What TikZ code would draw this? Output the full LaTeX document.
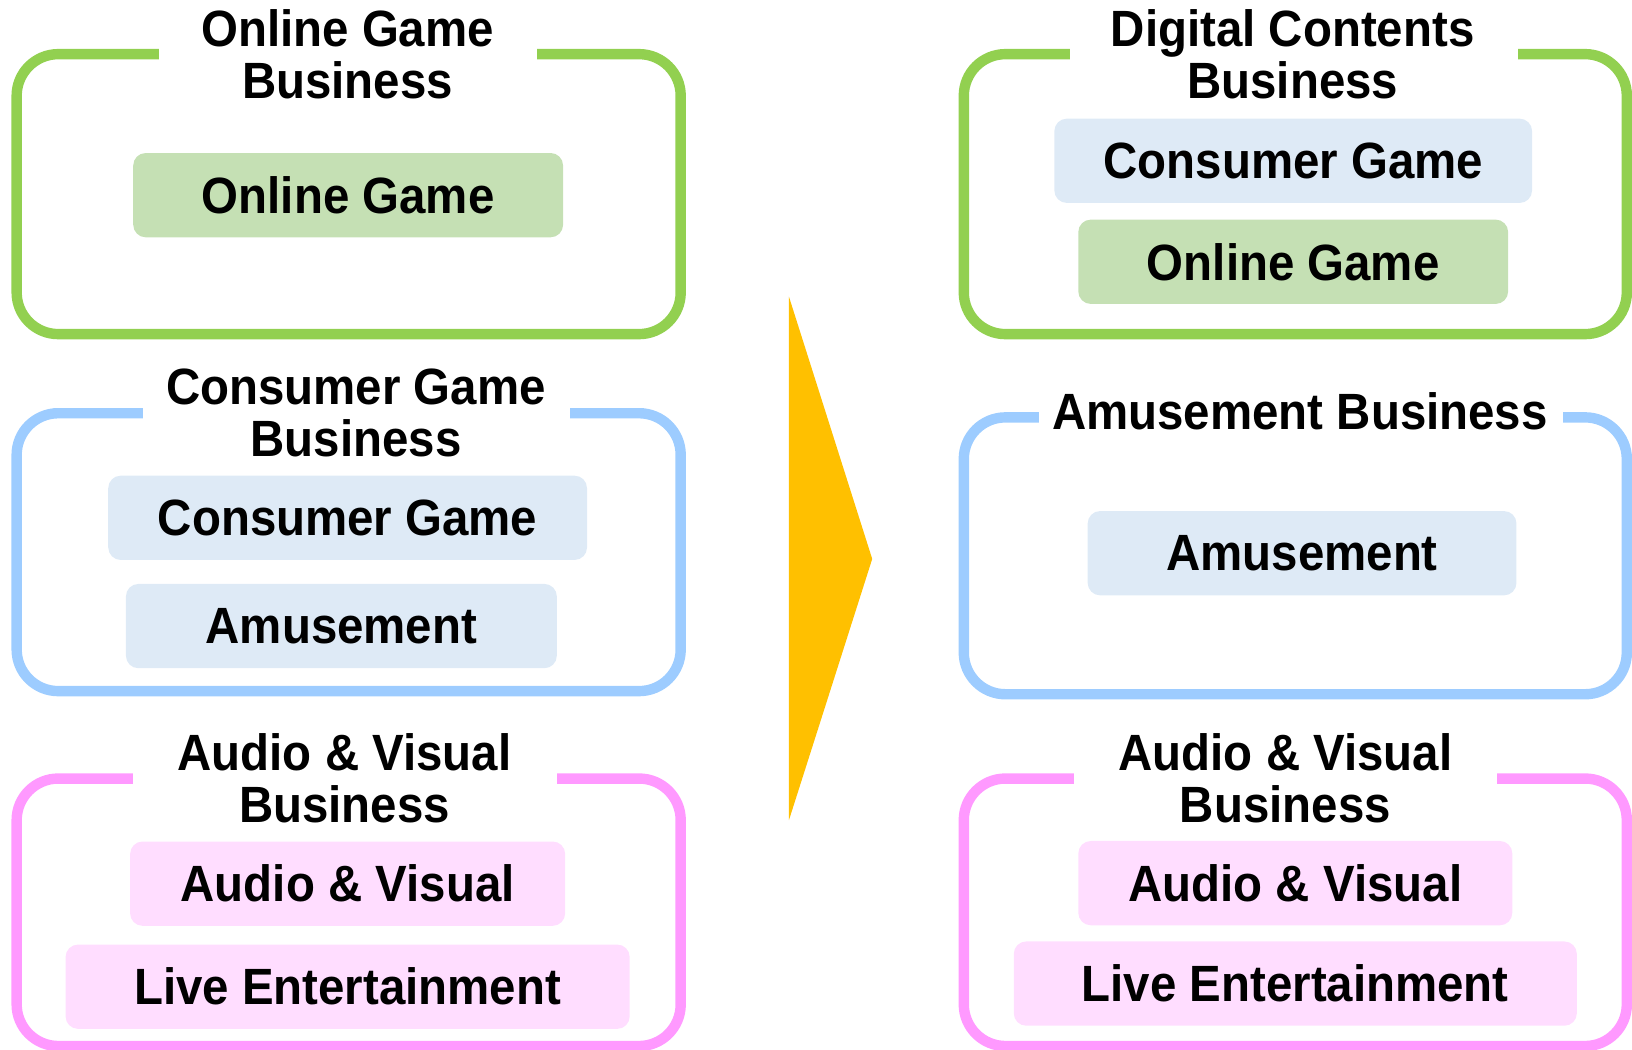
\documentclass[tikz,border=0pt]{standalone}
\usepackage{fontspec}
\setmainfont[FakeStretch=0.93]{Liberation Sans}
\definecolor{gstroke}{HTML}{92D050}
\definecolor{gfill}{HTML}{C5E0B4}
\definecolor{bstroke}{HTML}{9DCCFF}
\definecolor{bfill}{HTML}{DEEAF6}
\definecolor{pstroke}{HTML}{FF99FF}
\definecolor{pfill}{HTML}{FFDDFF}
\definecolor{arrowc}{HTML}{FFC000}
\tikzset{
  frame/.style={line width=5pt, rounded corners=20pt},
  inner/.style={rectangle, rounded corners=6pt, minimum height=40.5pt, inner sep=0pt, font=\fontsize{24.5}{25}\selectfont\bfseries},
  title/.style={align=center, inner sep=0pt, font=\fontsize{24.5}{25}\selectfont\bfseries},
}
\begin{document}
\begin{tikzpicture}[x=0.5pt, y=-0.5pt]
\useasboundingbox (0,0) rectangle (1568,1008);
% frames
\draw[frame, gstroke] (16,52) rectangle (654,321);
\fill[white] (153,40) rectangle (516,64);
\draw[frame, bstroke] (16,397) rectangle (654,664);
\fill[white] (137,385) rectangle (548,409);
\draw[frame, pstroke] (16,748) rectangle (654,1005);
\fill[white] (128,736) rectangle (535,760);
\draw[frame, gstroke] (926,52) rectangle (1563,321);
\fill[white] (1028,40) rectangle (1458,64);
\draw[frame, bstroke] (926,401) rectangle (1563,667);
\fill[white] (998,389) rectangle (1502,413);
\draw[frame, pstroke] (926,748) rectangle (1563,1005);
\fill[white] (1032,736) rectangle (1438,760);
% titles
\node[title] (t1) at (334,52) {Online Game\\Business};
\node[title] (t2) at (342,397) {Consumer Game\\Business};
\node[title] (t3) at (331,748) {Audio \& Visual\\Business};
\node[title] (t4) at (1242,52) {Digital Contents\\Business};
\node[title] (t5) at (1249,395) {Amusement Business};
\node[title] (t6) at (1235,748) {Audio \& Visual\\Business};
% inner boxes
\node[inner, fill=gfill, minimum width=206.5pt] (og1) at (334.5,187.5) {Online Game};
\node[inner, fill=bfill, minimum width=230pt] (cg1) at (334,497.5) {Consumer Game};
\node[inner, fill=bfill, minimum width=207pt] (am1) at (328,601.5) {Amusement};
\node[inner, fill=pfill, minimum width=209pt] (av1) at (334,849) {Audio \& Visual};
\node[inner, fill=pfill, minimum width=271pt] (le1) at (334,948) {Live Entertainment};
\node[inner, fill=bfill, minimum width=229.5pt] (cg2) at (1242.5,154.5) {Consumer Game};
\node[inner, fill=gfill, minimum width=206.5pt] (og2) at (1242.5,251.5) {Online Game};
\node[inner, fill=bfill, minimum width=206pt] (am2) at (1251,531.5) {Amusement};
\node[inner, fill=pfill, minimum width=208.5pt] (av2) at (1244.5,848.5) {Audio \& Visual};
\node[inner, fill=pfill, minimum width=270.5pt] (le2) at (1244.5,945) {Live Entertainment};
% arrow
\fill[arrowc] (758,285) -- (838,537) -- (758,788) -- cycle;
\end{tikzpicture}
\end{document}
